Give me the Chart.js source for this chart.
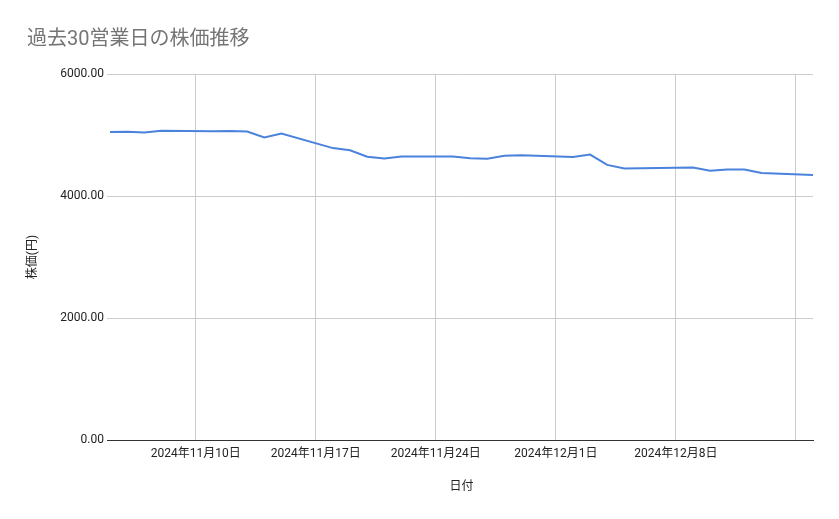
<!DOCTYPE html>
<html>
<head>
<meta charset="utf-8">
<script src="https://cdn.jsdelivr.net/npm/chart.js@4"></script>
<style>
  html, body { margin: 0; padding: 0; background: #ffffff; }
  #wrap { width: 839px; height: 519px; }
</style>
</head>
<body>
<div id="wrap"><canvas id="Chart" width="839" height="519"></canvas></div>
<script>
// 日付と株価
const dates = [
    '2024-11-05', '2024-11-06', '2024-11-07', '2024-11-08',
    '2024-11-11', '2024-11-12', '2024-11-13', '2024-11-14', '2024-11-15',
    '2024-11-18', '2024-11-19', '2024-11-20', '2024-11-21', '2024-11-22',
    '2024-11-25', '2024-11-26', '2024-11-27', '2024-11-28', '2024-11-29',
    '2024-12-02', '2024-12-03', '2024-12-04', '2024-12-05', '2024-12-06',
    '2024-12-09', '2024-12-10', '2024-12-11', '2024-12-12', '2024-12-13',
    '2024-12-16'
];
const prices = [
    5050, 5055, 5040, 5070,
    5062, 5066, 5057, 4958, 5025,
    4785, 4750, 4645, 4615, 4648,
    4648, 4617, 4612, 4658, 4666,
    4640, 4680, 4510, 4450, 4456,
    4468, 4415, 4433, 4436, 4378,
    4345
];
const tickDates = ['2024-11-10', '2024-11-17', '2024-11-24', '2024-12-01', '2024-12-08', '2024-12-15'];
const tickLabels = ['2024年11月10日', '2024年11月17日', '2024年11月24日', '2024年12月1日', '2024年12月8日', ''];
const yTicks = [0, 2000, 4000, 6000];

// 日付 -> 日数
function dayNum(s) {
    const p = s.split('-');
    return Date.UTC(+p[0], +p[1] - 1, +p[2]) / 86400000;
}
const tickDays = tickDates.map(dayNum);

const FONT = "Roboto, 'Noto Sans CJK JP', sans-serif";

var context = document.getElementById('Chart').getContext('2d');

var data = {
    datasets: [{
        label: '株価',
        data: dates.map(function (d, i) { return {x: dayNum(d), y: prices[i]}; }),
        borderColor: '#4a82dc',
        borderWidth: 2,
        pointRadius: 0,
        tension: 0,
        fill: false
    }]
};

var options = {
    responsive: false,
    animation: false,
    layout: {
        padding: {left: 27, right: 26, top: 0, bottom: 0}
    },
    scales: {
        x: {
            type: 'linear',
            min: dayNum(dates[0]),
            max: dayNum(dates[dates.length - 1]),
            afterBuildTicks: function (scale) {
                scale.ticks = tickDays.map(function (v) { return {value: v}; });
            },
            afterFit: function (scale) {
                scale.height = 79;
            },
            grid: {
                color: '#cccccc',
                drawTicks: false
            },
            border: {display: true, color: '#333333', width: 1},
            ticks: {
                autoSkip: false,
                maxRotation: 0,
                padding: 7,
                color: '#222222',
                font: {family: FONT, size: 12},
                callback: function (v) {
                    const i = tickDays.indexOf(v);
                    return i >= 0 ? tickLabels[i] : '';
                }
            },
            title: {
                display: true,
                text: '日付',
                color: '#222222',
                font: {family: FONT, size: 12},
                padding: {top: 4, bottom: 25}
            }
        },
        y: {
            min: yTicks[0],
            max: yTicks[yTicks.length - 1],
            afterBuildTicks: function (scale) {
                scale.ticks = yTicks.map(function (v) { return {value: v}; });
            },
            afterFit: function (scale) {
                scale.width = 83;
            },
            grid: {
                color: function (c) { return c.tick && c.tick.value === 0 ? '#333333' : '#cccccc'; },
                tickLength: 3
            },
            border: {display: false},
            ticks: {
                padding: 3,
                color: '#222222',
                font: {family: FONT, size: 12},
                callback: function (v) { return Number(v).toFixed(2); }
            },
            title: {
                display: true,
                text: '株価(円)',
                color: '#222222',
                font: {family: FONT, size: 12, lineHeight: 1},
                padding: {top: 0, bottom: 0}
            }
        }
    },
    plugins: {
        legend: {display: false},
        tooltip: {enabled: false},
        title: {
            display: true,
            text: '過去30営業日の株価推移',
            align: 'start',
            color: '#757575',
            font: {family: FONT, size: 20, weight: 'normal'},
            padding: {top: 28, bottom: 22}
        }
    }
};

var myChart = new Chart(context, {
    type: 'line',
    data: data,
    options: options
});
</script>
</body>
</html>
